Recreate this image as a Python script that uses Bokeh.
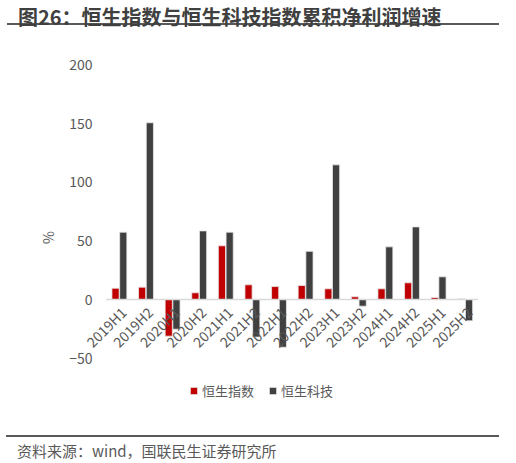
from bokeh.plotting import figure
from bokeh.models import ColumnDataSource, Range1d, Legend, LegendItem, Div
from bokeh.layouts import column
from bokeh.transform import dodge
from bokeh.core.properties import value
from bokeh.embed import file_html
from bokeh.resources import INLINE
import math

categories = ["2019H1", "2019H2", "2020H1", "2020H2", "2021H1", "2021H2", "2022H1",
              "2022H2", "2023H1", "2023H2", "2024H1", "2024H2", "2025H1", "2025H2"]
hsi = [9.6, 10.5, -31.2, 5.7, 45.7, 12.5, 11.0, 11.9, 9.1, 2.3, 9.1, 14.2, 1.7, 0.8]
hstech = [57.3, 150.4, -25.3, 58.4, 57.3, -32.0, -40.6, 41.0, 114.6, -5.7, 44.8, 61.8, 19.3, -18.1]
series_names = ["恒生指数", "恒生科技"]
y_ticks = [-50, 0, 50, 100, 150, 200]

RED = "#C00000"
PINK = "#F4BFBF"
DARK = "#404040"
FONT = "Noto Sans CJK SC"

n = len(categories)
xc = [i + 0.5 for i in range(n)]          # category centres
red_colors = [RED] * (n - 1) + [PINK]
src = ColumnDataSource(dict(x=xc, cat=categories, hsi=hsi, hstech=hstech, rc=red_colors,
                            zero=[0] * n))

# frame extends one category to the left and below -50 so labels/legend are not clipped
p = figure(x_range=Range1d(-1, n), y_range=Range1d(-94.47, 200),
           width=500, height=393, output_backend="svg", toolbar_location=None,
           min_border_left=79, min_border_right=22, min_border_top=32, min_border_bottom=15,
           margin=(0, 0, 0, 0))
p.outline_line_color = None
p.xgrid.visible = False
p.ygrid.visible = False
p.xaxis.visible = False

bw = 0.27
off = 0.145
r1 = p.vbar(x=dodge("x", -off), top="hsi", width=bw, source=src, fill_color="rc",
            line_color="#E8E8E8", line_width=0.8)
r2 = p.vbar(x=dodge("x", off), top="hstech", width=bw, source=src, fill_color=DARK,
            line_color="#E8E8E8", line_width=0.8)

# zero line across the category area
p.segment(x0=[0], x1=[n], y0=[0], y1=[0], line_color="#D9D9D9", line_width=1.5)

yax = p.yaxis[0]
yax.ticker = y_ticks
yax.axis_line_color = None
yax.major_tick_line_color = None
yax.minor_tick_line_color = None
yax.major_tick_out = 0
yax.major_tick_in = 0
yax.minor_tick_out = 0
yax.major_label_standoff = -13
yax.major_label_text_font = FONT
yax.major_label_text_font_size = "14px"
yax.major_label_text_color = "#595959"
yax.axis_label = "%"
yax.axis_label_text_font = FONT
yax.axis_label_text_font_size = "14px"
yax.axis_label_text_font_style = "normal"
yax.axis_label_text_color = "#595959"
yax.axis_label_standoff = 8

p.text(x="x", y="zero", text="cat", source=src, angle=math.pi / 4,
       text_align="right", text_baseline="middle", x_offset=4, y_offset=10,
       text_font=value(FONT), text_font_size="14px", text_color="#595959")

legend = Legend(items=[LegendItem(label=series_names[0], renderers=[r1], index=0),
                       LegendItem(label=series_names[1], renderers=[r2])],
                orientation="horizontal", location=(110, 10),
                padding=0, margin=0, spacing=14, border_line_color=None,
                background_fill_alpha=0, glyph_width=9, glyph_height=9,
                label_standoff=4, label_height=14,
                label_text_font=FONT, label_text_font_size="13px",
                label_text_color="#595959")
p.add_layout(legend, "center")

title = Div(text=('<div style="font-family:\'Noto Sans CJK SC\';font-weight:bold;font-size:20px;'
                  'color:#404040;line-height:24px;padding-top:5px;padding-left:11px;height:25px;'
                  'border-bottom:2px solid #595959;width:492px;margin-left:7px;">'
                  '图26：恒生指数与恒生科技指数累积净利润增速</div>'),
            width=516, height=32, margin=(0, 0, 0, 0))
footer = Div(text=('<div style="margin-top:10px;border-top:2px solid #595959;width:493px;margin-left:6px;'
                   'font-family:\'Noto Sans CJK SC\';font-size:15px;color:#595959;'
                   'padding-left:11px;padding-top:5px;line-height:18px;">'
                   '资料来源：wind，国联民生证券研究所</div>'),
             width=516, height=38, margin=(0, 0, 0, 0))

layout = column(title, p, footer, spacing=0)
open("out.html", "w").write(file_html(layout, INLINE))
